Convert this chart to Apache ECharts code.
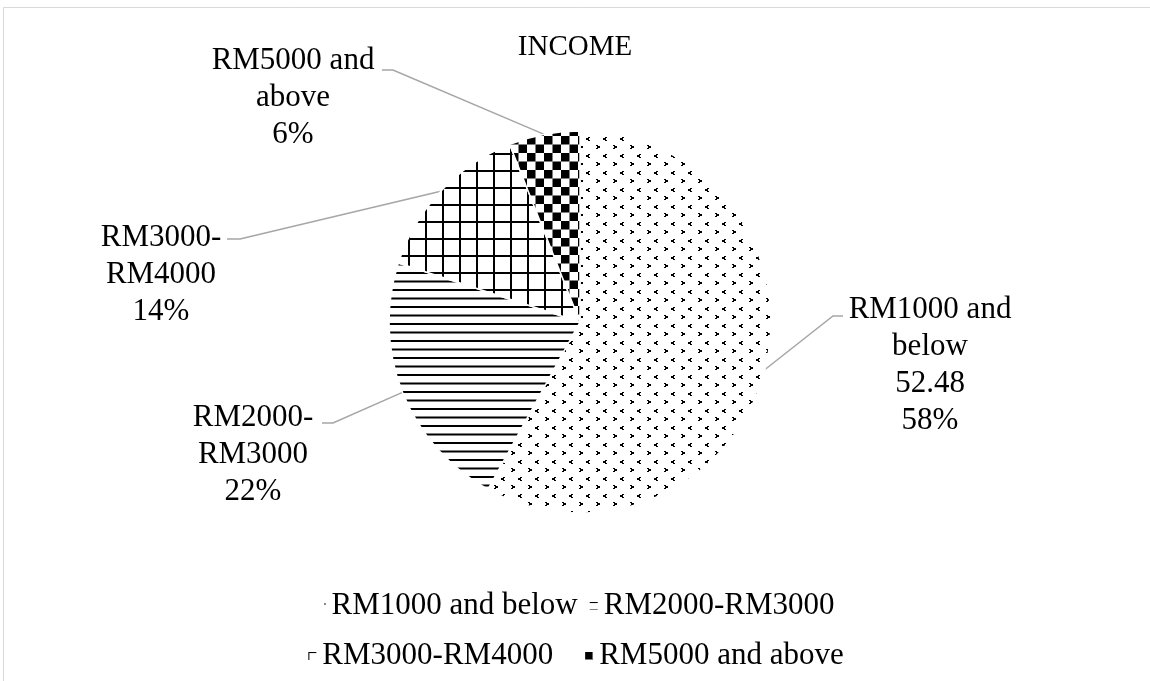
<!DOCTYPE html>
<html>
<head>
<meta charset="utf-8">
<script src="https://cdn.jsdelivr.net/npm/echarts@6/dist/echarts.min.js"></script>
<style>
body { margin: 0; background: #fff; }
#main { width: 1150px; height: 681px; }
</style>
</head>
<body>
<div id="main"></div>
<script>
// income groups, share in percent
var categories = ['RM1000 and below', 'RM2000-RM3000', 'RM3000-RM4000', 'RM5000 and above'];
var shares = [58, 22, 14, 6];
// label text as it is wrapped in the picture (first one carries the stray 52.48)
var labelNames = ['RM1000 and\nbelow\n52.48', 'RM2000-\nRM3000', 'RM3000-\nRM4000', 'RM5000 and\nabove'];

var serif = '"Liberation Serif", "Times New Roman", serif';

function tile(w, h, draw) {
  var c = document.createElement('canvas');
  c.width = w;
  c.height = h;
  var ctx = c.getContext('2d');
  ctx.fillStyle = '#000';
  draw(ctx);
  return c;
}

// small < and > marks on a staggered lattice
var dotTile = tile(17, 17, function (ctx) {
  // '<'
  ctx.fillRect(10, 1, 2, 1);
  ctx.fillRect(8, 2, 3, 2);
  ctx.fillRect(10, 4, 2, 1);
  // '>'
  ctx.fillRect(1, 9, 2, 1);
  ctx.fillRect(2, 10, 3, 2);
  ctx.fillRect(1, 12, 2, 1);
});
var lineTile = tile(8, 17, function (ctx) {
  ctx.fillRect(0, 0, 8, 2);
  ctx.fillRect(0, 8.5, 8, 2);
});
var gridTile = tile(17, 17, function (ctx) {
  ctx.fillRect(0, 0, 17, 2);
  ctx.fillRect(0, 0, 2, 17);
});
var checkTile = tile(17, 17, function (ctx) {
  ctx.fillRect(0, 0, 8.5, 8.5);
  ctx.fillRect(8.5, 8.5, 8.5, 8.5);
});
var fills = [dotTile, lineTile, gridTile, checkTile];

var pieData = [];
for (var i = 0; i < categories.length; i++) {
  pieData.push({
    name: categories[i],
    value: shares[i],
    itemStyle: { color: { image: fills[i], repeat: 'repeat' } }
  });
}

// where each label block sits and how its leader line bends
var spots = [
  { x: 930, y: 365, bend: [833, 316], end: [843, 316] },
  { x: 253, y: 455, bend: [333, 423], end: [322, 423] },
  { x: 161, y: 275, bend: [240, 239], end: [227, 239] },
  { x: 293, y: 98, bend: [393, 70], end: [382, 70] }
];

var myChart = echarts.init(document.getElementById('main'));
var option = {
  backgroundColor: '#fff',
  animation: false,
  title: {
    text: 'INCOME',
    left: 'center',
    top: 33,
    padding: 0,
    textStyle: { fontFamily: serif, fontSize: 29, fontWeight: 'normal', color: '#000' }
  },
  graphic: [
    {
      type: 'rect',
      shape: { x: 3.5, y: 7.5, width: 1300, height: 800 },
      style: { fill: 'none', stroke: '#d9d9d9', lineWidth: 1 },
      silent: true
    }
  ],
  legend: [
    {
      data: [categories[0], categories[1]],
      left: 'center',
      top: 583,
      icon: 'rect',
      itemWidth: 10,
      itemHeight: 10,
      itemGap: 10,
      selectedMode: false,
      textStyle: { fontFamily: serif, fontSize: 31, color: '#000', lineHeight: 36 }
    },
    {
      data: [categories[2], categories[3]],
      left: 'center',
      top: 633,
      icon: 'rect',
      itemWidth: 10,
      itemHeight: 10,
      itemGap: 30,
      selectedMode: false,
      textStyle: { fontFamily: serif, fontSize: 31, color: '#000', lineHeight: 36 }
    }
  ],
  series: [
    {
      type: 'pie',
      center: [580, 322],
      radius: 191,
      startAngle: 90,
      clockwise: true,
      data: pieData,
      itemStyle: { borderColor: '#fff', borderWidth: 1.5 },
      emphasis: { disabled: true },
      label: {
        show: true,
        position: 'outside',
        fontFamily: serif,
        fontSize: 31,
        lineHeight: 37,
        color: '#000',
        align: 'center',
        formatter: function (p) {
          return labelNames[p.dataIndex] + '\n' + Math.round(p.percent) + '%';
        }
      },
      labelLine: {
        show: true,
        lineStyle: { color: '#a6a6a6', width: 1.5 }
      },
      labelLayout: function (params) {
        var s = spots[params.dataIndex];
        var start = params.labelLinePoints ? params.labelLinePoints[0] : s.bend;
        return {
          x: s.x,
          y: s.y,
          align: 'center',
          verticalAlign: 'middle',
          labelLinePoints: [start, s.bend, s.end]
        };
      }
    }
  ]
};
myChart.setOption(option);
</script>
</body>
</html>
